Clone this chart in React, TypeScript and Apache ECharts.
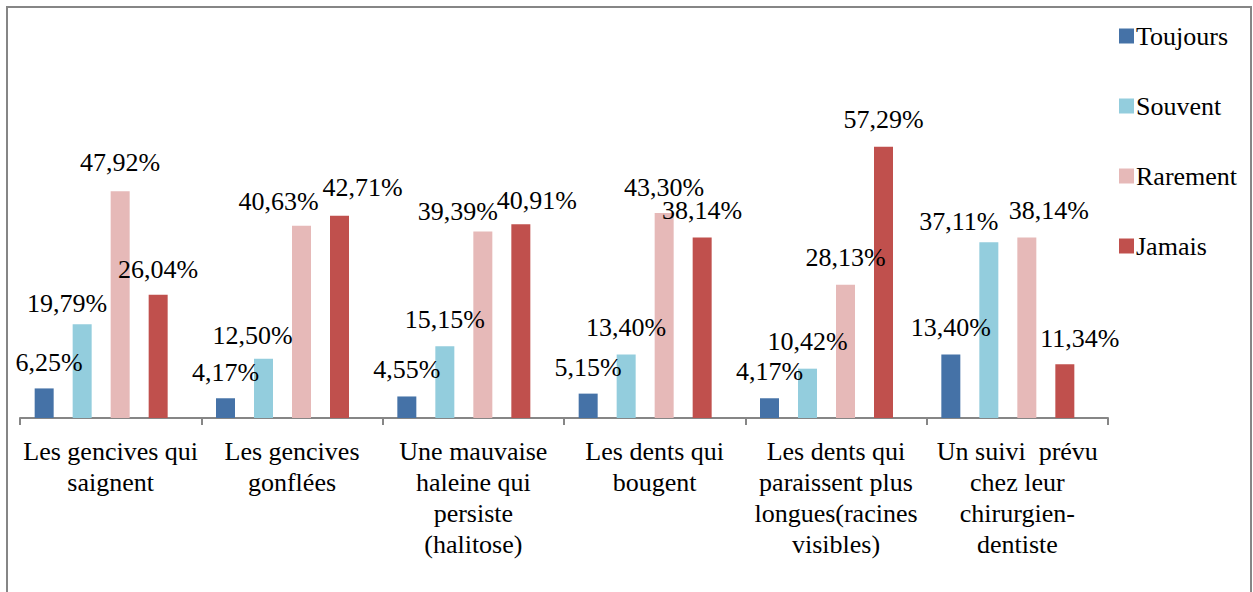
import React, { useEffect, useRef } from "react";
import * as echarts from "echarts";

const categories = [
  "Les gencives qui\nsaignent",
  "Les gencives\ngonflées",
  "Une mauvaise\nhaleine qui\npersiste\n(halitose)",
  "Les dents qui\nbougent",
  "Les dents qui\nparaissent plus\nlongues(racines\nvisibles)",
  "Un suivi  prévu\nchez leur\nchirurgien-\ndentiste",
];
const seriesNames = ["Toujours", "Souvent", "Rarement", "Jamais"];
const toujours = [6.25, 4.17, 4.55, 5.15, 4.17, 13.4];
const souvent = [19.79, 12.5, 15.15, 13.4, 10.42, 37.11];
const rarement = [47.92, 40.63, 39.39, 43.3, 28.13, 38.14];
const jamais = [26.04, 42.71, 40.91, 38.14, 57.29, 11.34];
const colors = ["#4572A7", "#93CDDD", "#E6B9B8", "#C0504D"];

// label nudges (px) mimicking the reference's label placement, per series
const labelNudgeX = [
  [5, 0, 0, 0, 0, 0],
  [-15, -11, 0, 0, 0, -30],
  [0, -23, -25, 0, 0, 22],
  [0, 23, 16, 0, 0, 15],
];
const labelNudgeY = [
  [1, 1, 0, 1, 0, 0],
  [6, 4, 0, 0, 0, 6],
  [-2, 3, 7, 1, 0, 0],
  [2, -1, 3, 0, 0, 1],
];

const FONT = "serif";

export default function App() {
  const ref = useRef<HTMLDivElement>(null);
  useEffect(() => {
    if (!ref.current) return;
    document.body.style.margin = "0";
    const chart = echarts.init(ref.current, null, { renderer: "svg" });
    const values = [toujours, souvent, rarement, jamais];
    chart.setOption({
      animation: false,
      textStyle: { fontFamily: FONT },
      graphic: [
        {
          type: "rect",
          shape: { x: 7, y: 7, width: 1244, height: 620 },
          style: { fill: "none", stroke: "#868686", lineWidth: 2 },
          silent: true,
        },
      ],
      legend: {
        orient: "vertical",
        left: 1114,
        top: 18,
        itemWidth: 15,
        itemHeight: 15,
        itemGap: 44,
        icon: "rect",
        data: seriesNames,
        textStyle: { fontFamily: FONT, fontSize: 26, color: "#000", padding: [0, 0, 0, -3] },
      },
      grid: [
        { left: 20, right: 145, top: 134, bottom: 174, containLabel: false },
        { left: 10.5, right: 154.5, top: 134, bottom: 174, containLabel: false },
      ],
      xAxis: [
        {
          type: "category",
          gridIndex: 0,
          data: categories,
          axisLine: { lineStyle: { color: "#868686", width: 2 } },
          axisTick: { show: true, length: 7, lineStyle: { color: "#868686", width: 2 } },
          axisLabel: {
            interval: 0,
            fontFamily: FONT,
            fontSize: 26,
            color: "#000",
            lineHeight: 31,
            margin: 18,
          },
        },
        {
          type: "category",
          gridIndex: 1,
          data: categories,
          show: false,
        },
      ],
      yAxis: [
        { type: "value", gridIndex: 0, min: 0, max: 60, show: false, splitLine: { show: false } },
        { type: "value", gridIndex: 1, min: 0, max: 60, show: false, splitLine: { show: false } },
      ],
      series: seriesNames.map((name, i) => ({
        name,
        type: "bar",
        xAxisIndex: 1,
        yAxisIndex: 1,
        data: values[i].map((v, j) => ({
          value: v,
          label: { offset: [labelNudgeX[i][j], labelNudgeY[i][j]] },
        })),
        barWidth: 19,
        barGap: "100%",
        itemStyle: { color: colors[i] },
        label: {
          show: true,
          position: "top",
          distance: 14,
          fontFamily: FONT,
          fontSize: 26,
          color: "#000",
          formatter: (p: any) => p.value.toFixed(2).replace(".", ",") + "%",
        },
      })),
    });
    return () => chart.dispose();
  }, []);
  return (
    <div>
      <div ref={ref} style={{ width: 1253, height: 592 }} />
    </div>
  );
}
